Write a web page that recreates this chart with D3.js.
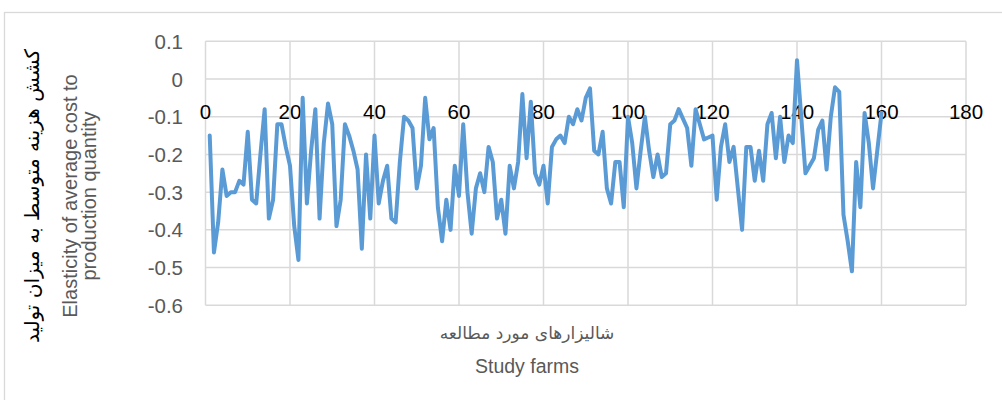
<!DOCTYPE html>
<html>
<head>
<meta charset="utf-8">
<script src="https://cdn.jsdelivr.net/npm/d3@7"></script>
<style>
  html, body { margin: 0; padding: 0; background: #fff; }
  svg { display: block; }
</style>
</head>
<body>
<svg id="chart" width="1002" height="400"></svg>
<script>
// ---- data ----
const farms = d3.range(1, 161);
const elasticity = [
  -0.15, -0.46, -0.38, -0.24, -0.31, -0.30, -0.30, -0.27, -0.28, -0.14,
  -0.32, -0.33, -0.20, -0.08, -0.37, -0.32, -0.12, -0.12, -0.18, -0.23,
  -0.39, -0.48, -0.05, -0.33, -0.19, -0.08, -0.37, -0.17, -0.065, -0.12,
  -0.39, -0.32, -0.12, -0.15, -0.19, -0.24, -0.45, -0.20, -0.37, -0.15,
  -0.33, -0.27, -0.23, -0.37, -0.38, -0.22, -0.10, -0.11, -0.13, -0.29,
  -0.23, -0.05, -0.16, -0.13, -0.34, -0.43, -0.32, -0.40, -0.23, -0.31,
  -0.12, -0.30, -0.41, -0.29, -0.25, -0.30, -0.18, -0.22, -0.37, -0.32,
  -0.41, -0.23, -0.29, -0.22, -0.04, -0.21, -0.06, -0.25, -0.28, -0.23,
  -0.33, -0.18, -0.16, -0.15, -0.17, -0.10, -0.12, -0.08, -0.11, -0.05,
  -0.025, -0.19, -0.20, -0.14, -0.29, -0.33, -0.22, -0.22, -0.34, -0.10,
  -0.17, -0.29, -0.19, -0.10, -0.19, -0.26, -0.20, -0.26, -0.25, -0.12,
  -0.11, -0.08, -0.105, -0.13, -0.23, -0.08, -0.12, -0.16, -0.155, -0.15,
  -0.32, -0.18, -0.12, -0.22, -0.18, -0.29, -0.40, -0.18, -0.18, -0.27,
  -0.19, -0.27, -0.12, -0.09, -0.21, -0.10, -0.22, -0.15, -0.17, 0.05,
  -0.10, -0.25, -0.23, -0.21, -0.135, -0.11, -0.24, -0.10, -0.022, -0.034,
  -0.36, -0.43, -0.51, -0.22, -0.34, -0.09, -0.17, -0.29, -0.19, -0.09
];
const xTicks = [0, 20, 40, 60, 80, 100, 120, 140, 160, 180];
const yTicks = [0.1, 0, -0.1, -0.2, -0.3, -0.4, -0.5, -0.6];
const xTitleFa = "شالیزارهای مورد مطالعه";
const xTitleEn = "Study farms";
const yTitleFa = "کشش هزینه متوسط به میزان تولید";
const yTitleEn1 = "Elasticity of average cost to";
const yTitleEn2 = "production quantity";

// ---- layout ----
const svg = d3.select("#chart");
const x = d3.scaleLinear().domain([0, 180]).range([205.5, 966]);
const y = d3.scaleLinear().domain([-0.6, 0.1]).range([305.3, 41.3]);
const grid = "#d9d9d9";
const font = "'Liberation Sans', Arial, sans-serif";

// outer chart border
svg.append("rect").attr("x", 4.5).attr("y", 12.5).attr("width", 1100).attr("height", 500)
  .attr("fill", "none").attr("stroke", grid).attr("stroke-width", 1.3);

// gridlines
svg.append("g").selectAll("line").data(yTicks).join("line")
  .attr("x1", x(0)).attr("x2", x(180))
  .attr("y1", d => y(d)).attr("y2", d => y(d))
  .attr("stroke", grid).attr("stroke-width", 1.5);
svg.append("g").selectAll("line").data(xTicks).join("line")
  .attr("x1", d => x(d)).attr("x2", d => x(d))
  .attr("y1", y(0.1)).attr("y2", y(-0.6))
  .attr("stroke", grid).attr("stroke-width", 1.5);

// y tick labels
svg.append("g").selectAll("text").data(yTicks).join("text")
  .attr("x", 183).attr("y", d => y(d))
  .attr("text-anchor", "end").attr("dominant-baseline", "central")
  .attr("font-family", font).attr("font-size", 20.5).attr("fill", "#595959")
  .text(d => d3.format(".1f")(d).replace("0.0", "0").replace("−", "-"));

// x tick labels (placed just below the zero line)
svg.append("g").selectAll("text").data(xTicks).join("text")
  .attr("x", d => x(d)).attr("y", y(0) + 32)
  .attr("text-anchor", "middle").attr("dominant-baseline", "central")
  .attr("font-family", font).attr("font-size", 20.5).attr("fill", "#000")
  .text(d => d);

// line
const line = d3.line().x((d, i) => x(farms[i])).y(d => y(d));
svg.append("path").datum(elasticity)
  .attr("d", line).attr("fill", "none")
  .attr("stroke", "#5b9bd5").attr("stroke-width", 4)
  .attr("stroke-linejoin", "round").attr("stroke-linecap", "round");

// x titles
svg.append("text").attr("x", 527).attr("y", 333)
  .attr("text-anchor", "middle").attr("dominant-baseline", "central")
  .attr("font-family", "'DejaVu Sans', sans-serif").attr("font-size", 17)
  .attr("direction", "rtl").attr("fill", "#595959").text(xTitleFa);
svg.append("text").attr("x", 527).attr("y", 366)
  .attr("text-anchor", "middle").attr("dominant-baseline", "central")
  .attr("font-family", font).attr("font-size", 19.5)
  .attr("fill", "#595959").text(xTitleEn);

// y titles (rotated)
const yt = svg.append("g").attr("transform", "translate(0,196) rotate(-90)");
yt.append("text").attr("x", 0).attr("y", 32)
  .attr("text-anchor", "middle").attr("dominant-baseline", "central")
  .attr("font-family", "'DejaVu Sans', sans-serif").attr("font-size", 20)
  .attr("direction", "rtl").attr("fill", "#000").text(yTitleFa);
yt.append("text").attr("x", 0).attr("y", 70)
  .attr("text-anchor", "middle").attr("dominant-baseline", "central")
  .attr("font-family", font).attr("font-size", 20)
  .attr("fill", "#595959").text(yTitleEn1);
yt.append("text").attr("x", 0).attr("y", 89)
  .attr("text-anchor", "middle").attr("dominant-baseline", "central")
  .attr("font-family", font).attr("font-size", 20)
  .attr("fill", "#595959").text(yTitleEn2);
</script>
</body>
</html>
